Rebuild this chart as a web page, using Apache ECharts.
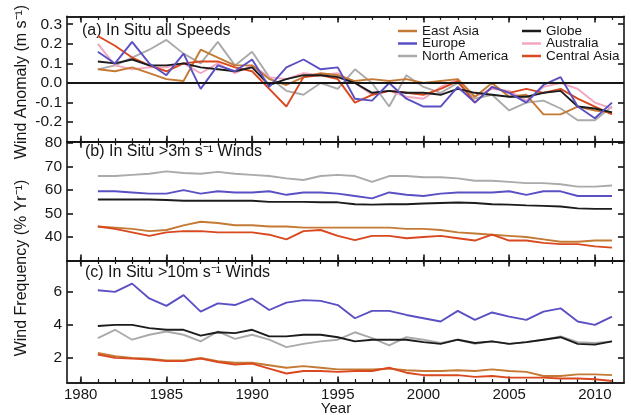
<!DOCTYPE html>
<html><head><meta charset="utf-8">
<script src="https://cdn.jsdelivr.net/npm/echarts@6/dist/echarts.min.js"></script>
<style>html,body{margin:0;padding:0;background:#fff}#c{width:631px;height:415px}</style>
</head><body><div id="c"></div>
<script>
const years = [1981,1982,1983,1984,1985,1986,1987,1988,1989,1990,1991,1992,1993,1994,1995,1996,1997,1998,1999,2000,2001,2002,2003,2004,2005,2006,2007,2008,2009,2010,2011];
const xLabelYears = [1980,1985,1990,1995,2000,2005,2010];
const xMinorYears = [1980,1981,1982,1983,1984,1985,1986,1987,1988,1989,1990,1991,1992,1993,1994,1995,1996,1997,1998,1999,2000,2001,2002,2003,2004,2005,2006,2007,2008,2009,2010,2011];
const yTicksA = [-0.2,-0.1,0,0.1,0.2,0.3];
const yTicksB = [40,50,60,70,80];
const yTicksC = [2,4,6];

// Panel (a) wind anomaly (m s-1)
const aEastAsia    = [0.07,0.06,0.08,0.05,0.02,0.01,0.17,0.13,0.09,0.09,0.02,-0.01,0.03,0.05,0.04,0.01,0.02,0.01,0.02,0.00,0.01,0.02,-0.07,0.00,-0.07,-0.06,-0.16,-0.16,-0.12,-0.14,-0.15];
const aEurope      = [0.16,0.10,0.21,0.10,0.04,0.15,-0.03,0.09,0.06,0.12,-0.02,0.08,0.12,0.07,0.08,-0.08,-0.09,0.00,-0.08,-0.12,-0.12,-0.02,-0.10,-0.02,-0.05,-0.10,-0.01,0.03,-0.12,-0.18,-0.10];
const aNorthAmerica= [0.07,0.09,0.13,0.17,0.22,0.15,0.10,0.21,0.09,0.16,0.03,-0.04,-0.06,0.00,-0.03,0.07,0.00,-0.12,0.04,-0.02,-0.05,0.00,-0.08,-0.06,-0.14,-0.10,-0.09,-0.13,-0.19,-0.19,-0.12];
const aGlobe       = [0.11,0.10,0.12,0.09,0.09,0.10,0.08,0.07,0.06,0.08,-0.01,0.02,0.04,0.04,0.03,0.00,-0.05,-0.04,-0.05,-0.05,-0.06,-0.03,-0.05,-0.06,-0.07,-0.07,-0.05,-0.04,-0.12,-0.13,-0.15];
const aAustralia   = [0.20,0.09,0.07,0.08,0.08,0.10,0.05,0.10,0.05,0.09,0.03,0.02,0.05,0.04,0.05,0.00,-0.06,-0.04,-0.07,-0.08,-0.02,0.02,-0.07,-0.03,-0.04,-0.09,-0.02,0.00,-0.03,-0.10,-0.13];
const aCentralAsia = [0.24,0.19,0.13,0.09,0.06,0.10,0.11,0.11,0.08,0.06,-0.03,-0.12,0.03,0.04,0.02,-0.10,-0.06,-0.04,-0.05,-0.06,-0.03,0.01,-0.10,-0.02,-0.05,-0.03,-0.05,-0.03,-0.08,-0.12,-0.16];

// Panel (b) >3 m s-1 wind frequency (% per year)
const bNorthAmerica= [66,66,66.5,67,68,67.3,67,67.8,67,66.5,66,65,64.3,66,66.5,66,63.5,66,66,65.5,65.5,65,64,64,63.5,63,63,62.5,61.5,61.5,62];
const bEurope      = [59.5,59.5,59,58.5,58.5,60,58.5,59.5,59,59,59.5,58,59,59,58.5,57.5,56.5,59,58,57.5,58.5,59,59,59,59.5,58,59.5,59.5,57.5,57.5,57.5];
const bGlobe       = [56,56,56,56,55.8,55.5,55.5,55.5,55.5,55.5,55,55,55,54.8,54.8,54,53.8,54,54,54.3,54.5,54.7,54.5,54,53.8,53.5,53.3,53,52.2,52,52];
const bEastAsia    = [44.5,44,43.5,42.5,43,45,46.5,46,45,45,44.5,44.5,44,44,44,44,44,44,43.5,43.5,43,42,41.5,41,40.5,40,39,38,38,38.5,38.5];
const bCentralAsia = [44.5,43.5,42,40.5,42,42.5,42.5,42,42,42,41,39,42.5,43,40.5,38.7,40.5,40.5,39.5,40,40.5,39.5,38.5,41,38.5,38.5,37.5,37,37,36,35.5];

// Panel (c) >10 m s-1 wind frequency (% per year)
const cEurope      = [6.1,6.0,6.5,5.6,5.15,5.8,4.8,5.3,5.2,5.6,4.9,5.35,5.5,5.45,5.2,4.4,4.85,4.85,4.6,4.4,4.2,4.85,4.3,4.75,4.5,4.3,4.8,5.0,4.2,4.0,4.5];
const cGlobe       = [3.93,4.0,4.0,3.8,3.7,3.7,3.35,3.55,3.5,3.7,3.3,3.3,3.4,3.4,3.25,3.0,3.1,3.1,3.1,2.95,2.85,3.1,2.9,3.0,2.85,2.95,3.1,3.25,2.85,2.8,3.0];
const cNorthAmerica= [3.2,3.7,3.1,3.4,3.6,3.4,3.0,3.6,3.15,3.4,3.1,2.65,2.85,3.0,3.1,3.55,3.2,2.75,3.25,3.1,2.9,3.1,2.85,3.0,2.85,2.95,3.1,3.3,2.95,2.9,3.0];
const cEastAsia    = [2.3,2.1,2.0,1.95,1.85,1.85,2.0,1.8,1.7,1.7,1.55,1.4,1.5,1.4,1.3,1.3,1.3,1.35,1.25,1.2,1.2,1.25,1.2,1.3,1.2,1.15,0.9,0.9,1.0,1.0,0.95];
const cCentralAsia = [2.2,2.0,1.95,1.9,1.8,1.8,1.95,1.75,1.6,1.65,1.35,1.05,1.2,1.2,1.15,1.2,1.2,1.4,1.1,0.95,0.95,0.95,0.85,0.9,0.8,0.8,0.8,0.75,0.75,0.7,0.6];

const legendCol1 = ['East Asia','Europe','North America'];
const legendCol2 = ['Globe','Australia','Central Asia'];

const COL = {
  'East Asia':'#c47a35', 'Europe':'#5a50c4', 'North America':'#aaaaaa',
  'Globe':'#1c1c1c', 'Australia':'#f2a6c0', 'Central Asia':'#d9481f'
};
const FONT = '"Liberation Sans", Arial, Helvetica, sans-serif';
const INK = '#161616';
const XMIN = 1979.2, XMAX = 2011.7;

const grids = [
  {left:67, right:7, top:16.4, height:125.4},
  {left:67, right:7, top:141.8, height:118.7},
  {left:67, right:7, top:260.5, height:122.1}
];

function xa(g, pos, major, labels){
  return {
    type:'value', gridIndex:g, position:pos, min:XMIN, max:XMAX,
    axisLine:{show:true, onZero:false, lineStyle:{color:INK, width:1.6}},
    axisTick:{show:true, inside:true, length: major?6:3.5, customValues: major?xLabelYears:xMinorYears,
      lineStyle:{color:INK, width: major?1.6:1.2}},
    axisLabel:{show:labels, customValues:xLabelYears, margin:5, color:INK, fontSize:15, fontFamily:FONT,
      formatter:v=>String(Math.round(v))},
    splitLine:{show:false}
  };
}
function ya(g, pos, min, max, ticks, labels, fmt){
  return {
    type:'value', gridIndex:g, position:pos, min:min, max:max,
    axisLine:{show:true, onZero:false, lineStyle:{color:INK, width:1.6}},
    axisTick:{show:true, inside:true, length:6, customValues:ticks, lineStyle:{color:INK, width:1.6}},
    axisLabel:{show:labels, customValues:ticks, margin:5, color:INK, fontSize:15.5, fontFamily:FONT, formatter:fmt},
    splitLine:{show:false}
  };
}

const xAxes = [];
for (let g=0; g<3; g++){
  xAxes.push(xa(g,'bottom',true, g===2));
  xAxes.push(xa(g,'bottom',false,false));
  xAxes.push(xa(g,'top',true,false));
  xAxes.push(xa(g,'top',false,false));
}
const yAxes = [
  ya(0,'left',-0.3,0.34,yTicksA,true,v=>v.toFixed(1)),
  ya(0,'right',-0.3,0.34,yTicksA,false,v=>v),
  ya(1,'left',30,80.6,yTicksB,true,v=>String(v)),
  ya(1,'right',30,80.6,yTicksB,false,v=>v),
  ya(2,'left',0.5,7.9,yTicksC,true,v=>String(v)),
  ya(2,'right',0.5,7.9,yTicksC,false,v=>v)
];

function mk(name, vals, g, extra){
  const s = {
    type:'line', name:name, xAxisIndex:g*4, yAxisIndex:g*2,
    data: years.map((y,i)=>[y, vals[i]]),
    symbol:'none', showSymbol:false, silent:true,
    lineStyle:{color:COL[name], width:1.9},
    itemStyle:{color:COL[name]}
  };
  return Object.assign(s, extra||{});
}

const series = [
  mk('North America', aNorthAmerica, 0),
  mk('Australia', aAustralia, 0),
  mk('East Asia', aEastAsia, 0),
  mk('Central Asia', aCentralAsia, 0),
  mk('Globe', aGlobe, 0, {markLine:{silent:true, symbol:'none', label:{show:false},
     lineStyle:{color:INK, width:1.8, type:'solid'}, data:[{yAxis:0}]}}),
  mk('Europe', aEurope, 0),

  mk('North America', bNorthAmerica, 1),
  mk('Europe', bEurope, 1),
  mk('Globe', bGlobe, 1),
  mk('East Asia', bEastAsia, 1),
  mk('Central Asia', bCentralAsia, 1),

  mk('North America', cNorthAmerica, 2),
  mk('Globe', cGlobe, 2),
  mk('Europe', cEurope, 2),
  mk('East Asia', cEastAsia, 2),
  mk('Central Asia', cCentralAsia, 2)
];

function lg(data, left){
  return {
    data:data, orient:'vertical', left:left, top:24, padding:0, itemGap:-1.5,
    icon:'rect', itemWidth:19, itemHeight:2.5, selectedMode:false,
    textStyle:{fontSize:13.5, fontFamily:FONT, color:INK, lineHeight:12.5, padding:0}
  };
}

const chart = echarts.init(document.getElementById('c'), null, {renderer:'canvas'});
chart.setOption({
  animation:false,
  backgroundColor:'#fff',
  grid:grids,
  xAxis:xAxes,
  yAxis:yAxes,
  legend:[lg(legendCol1,398), lg(legendCol2,522)],
  series:series,
  graphic:[
    {type:'text', x:82, y:31, style:{text:'(a) In Situ all Speeds', fontSize:16, fontFamily:FONT, fill:INK, verticalAlign:'middle'}},
    {type:'text', x:85, y:152, style:{text:'(b) In Situ >3m s\u207B\u00B9 Winds', fontSize:16, fontFamily:FONT, fill:INK, verticalAlign:'middle'}},
    {type:'text', x:85, y:273, style:{text:'(c) In Situ >10m s\u207B\u00B9 Winds', fontSize:16, fontFamily:FONT, fill:INK, verticalAlign:'middle'}},
    {type:'text', x:22, y:82, rotation:Math.PI/2, style:{text:'Wind Anomaly (m s\u207B\u00B9)', fontSize:16, fontFamily:FONT, fill:INK, align:'center', verticalAlign:'middle'}},
    {type:'text', x:22, y:268, rotation:Math.PI/2, style:{text:'Wind Frequency (% Yr\u207B\u00B9)', fontSize:16, fontFamily:FONT, fill:INK, align:'center', verticalAlign:'middle'}},
    {type:'text', x:336, y:409, style:{text:'Year', fontSize:15, fontFamily:FONT, fill:INK, align:'center', verticalAlign:'middle'}}
  ]
});
</script>
</body></html>
